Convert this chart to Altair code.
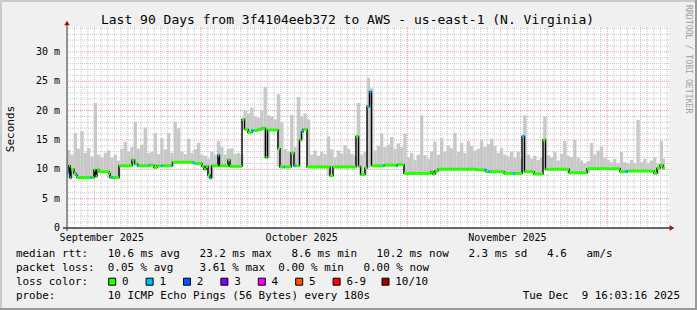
import altair as alt
import numpy as np
import pandas as pd

# ---------------- data (x = days since 2025-09-01 00:00) ----------------
# median rtt, step segments: start day, value (ms), lost pings
med_start = [9.88, 10.18, 10.33, 10.48, 10.93, 11.23, 11.38, 13.33, 13.63, 13.93,
             14.16, 14.38, 14.68, 16.19, 16.34, 16.56, 16.79, 17.69, 19.64, 20.02,
             20.47, 20.69, 22.19, 22.34, 22.94, 23.39, 24.07, 24.29, 25.50, 25.72,
             28.80, 29.10, 30.15, 30.45, 30.75, 31.05, 31.35, 31.58, 32.55, 32.78,
             34.05, 34.35, 36.16, 36.53, 37.06, 37.66, 37.96, 38.56, 39.16, 39.68,
             39.99, 41.56, 41.86, 42.31, 42.54, 43.51, 43.96, 44.26, 44.79, 45.09,
             45.32, 45.92, 49.37, 49.82, 53.27, 53.65, 53.95, 54.62, 54.93, 55.30,
             55.60, 57.33, 57.55, 59.28, 59.50, 60.48, 64.53, 64.83, 65.14, 65.59,
             71.29, 72.49, 72.79, 73.09, 73.39, 75.50, 76.85, 77.15, 78.20, 78.57,
             80.00, 81.35, 81.73, 85.26, 87.96, 92.91, 93.66, 94.04, 98.02, 98.47,
             98.92, 99.37]
med_ms = [9.4, 10.6, 8.5, 10.0, 9.3, 9.0, 8.6, 8.6, 8.6, 9.9,
          8.8, 9.9, 9.6, 9.3, 8.6, 8.6, 8.6, 10.6, 11.6, 10.9,
          10.6, 10.6, 10.7, 10.7, 10.3, 10.6, 10.6, 10.6, 10.6, 11.2,
          11.1, 11.0, 10.5, 10.0, 10.5, 9.0, 8.5, 10.6, 12.4, 10.6,
          11.6, 10.5, 18.5, 16.8, 16.3, 16.6, 16.6, 16.8, 17.0, 12.0,
          16.7, 13.5, 10.4, 10.4, 10.4, 12.8, 10.6, 10.6, 15.0, 16.4,
          16.8, 10.4, 8.9, 10.4, 15.6, 10.5, 9.1, 10.2, 20.7, 23.2,
          10.6, 10.6, 10.7, 10.6, 10.8, 9.3, 9.6, 9.2, 9.7, 10.0,
          9.9, 9.9, 9.6, 9.6, 9.6, 9.3, 9.3, 9.3, 15.6, 9.6,
          9.2, 15.0, 10.0, 9.4, 10.1, 9.6, 9.6, 9.7, 9.3, 10.2,
          10.7, 10.2]
med_loss = [1, 0, 0, 0, 0, 1, 0, 1, 0, 0,
            0, 0, 0, 0, 0, 1, 0, 0, 0, 0,
            1, 0, 1, 0, 0, 0, 1, 0, 1, 0,
            1, 0, 0, 0, 0, 0, 1, 0, 1, 0,
            0, 0, 0, 0, 0, 1, 0, 0, 0, 0,
            0, 0, 0, 1, 0, 0, 1, 0, 0, 1,
            0, 0, 0, 0, 0, 0, 0, 0, 1, 1,
            0, 1, 0, 1, 0, 0, 0, 0, 0, 0,
            0, 1, 0, 1, 0, 0, 1, 0, 1, 0,
            0, 0, 0, 0, 0, 0, 1, 0, 0, 0,
            0, 0]
data_end = 99.67

# smoke (upper extent of the ping spread), one value per half day
smoke_t0 = 9.88
smoke_step = 0.5
smoke_top = [13.3, 12.5, 16.2, 13.5, 16.5, 12.8, 13.6, 12.2, 21.3, 12.5,
             12.0, 12.8, 13.2, 12.0, 12.5, 11.5, 13.5, 14.7, 13.0, 13.8,
             18.1, 13.5, 14.2, 17.1, 12.8, 13.0, 16.2, 12.6, 15.3, 13.4,
             16.2, 12.8, 18.1, 17.0, 13.0, 12.6, 15.2, 12.8, 13.4, 14.5,
             12.5, 12.3, 11.8, 13.0, 12.5, 14.8, 13.8, 12.5, 13.5, 13.6,
             12.6, 12.8, 12.5, 20.1, 19.5, 20.5, 19.0, 18.8, 20.0, 24.0,
             19.2, 19.0, 18.5, 22.8, 18.0, 13.5, 13.0, 19.3, 13.8, 22.3,
             19.0, 19.5, 18.5, 12.5, 13.2, 12.3, 13.0, 12.6, 15.6, 13.4,
             12.0, 13.2, 12.7, 14.1, 13.5, 12.6, 12.3, 21.3, 12.5, 13.0,
             25.6, 23.8, 13.2, 14.0, 16.1, 13.8, 14.2, 15.5, 13.5, 14.4,
             13.8, 16.1, 12.0, 12.8, 11.6, 12.5, 19.2, 12.4, 11.8, 13.0,
             14.7, 12.5, 15.3, 13.0, 14.0, 13.6, 16.2, 13.0, 14.5, 12.8,
             14.8, 14.0, 13.2, 13.5, 15.0, 13.8, 14.3, 15.2, 14.0, 12.8,
             13.6, 12.5, 12.2, 13.0, 12.0, 13.0, 11.8, 19.2, 12.5, 11.8,
             12.3, 11.6, 12.0, 19.0, 12.4, 12.0, 13.0, 11.5, 12.6, 14.8,
             12.3, 12.0, 15.0, 12.0, 11.5, 11.0, 11.4, 14.5, 12.5, 13.2,
             13.9, 12.0, 11.6, 11.2, 11.8, 11.0, 13.0, 11.2, 11.0, 11.6,
             11.0, 18.4, 11.2, 11.8, 11.0, 11.5, 12.0, 11.0, 14.8, 11.8]

x_ticks = [15.1, 45.1, 76.0]
x_tick_labels = ["September 2025", "October 2025", "November 2025"]
month_starts = [30, 61, 91]
y_ticks = [0, 5, 10, 15, 20, 25, 30]
y_tick_labels = ["0  ", "5 m", "10 m", "15 m", "20 m", "25 m", "30 m"]

loss_labels = ["0", "1", "2", "3", "4", "5", "6-9", "10/10"]
loss_colors = ["#26ff00", "#00b8ff", "#0059ff", "#7e00ff",
               "#ff00ff", "#ff5500", "#ff0000", "#a10000"]

title_text = "Last 90 Days from 3f4104eeb372 to AWS - us-east-1 (N. Virginia)"
legend_rows = [
    "median rtt:   10.6 ms avg   23.2 ms max   8.6 ms min   10.2 ms now   2.3 ms sd   4.6   am/s",
    "packet loss:  0.05 % avg    3.61 % max  0.00 % min   0.00 % now",
    "loss color:",
    "probe:        10 ICMP Echo Pings (56 Bytes) every 180s",
]
stamp_text = "Tue Dec  9 16:03:16 2025"
watermark = "RRDTOOL / TOBI OETIKER"

# ---------------- layout ----------------
FONT = "DejaVu Sans Mono"
LEFT, TOP, W, H = 67, 27, 602, 201
IMG_W, IMG_H = 697, 310
NB = "\u00a0"

x_scale = alt.Scale(domain=[9.88, 100.27], nice=False, zero=False)
y_scale = alt.Scale(domain=[0, 34.24], nice=False, zero=False)

# ---------------- tables ----------------
med_end = med_start[1:] + [data_end]
med_df = pd.DataFrame({"start": med_start, "end": med_end, "ms": med_ms, "loss": med_loss})
line_df = pd.DataFrame({"t": med_start + [data_end], "ms": med_ms + [med_ms[-1]]})

st = np.array(med_start)
en = np.array(med_end)
ms_arr = np.array(med_ms)
rows = []
for i, top in enumerate(smoke_top):
    t = smoke_t0 + smoke_step * i
    t2 = min(t + smoke_step, data_end)
    mask = (st < t2) & (en > t)
    base = float(ms_arr[mask].min())
    rows.append({"t": t, "t2": t2, "top": max(top, base), "base": base})
smoke_df = pd.DataFrame(rows)

minor_days = [d for d in range(10, 101) if d not in month_starts]
minor_ms = [v for v in range(1, 35) if v % 5 != 0]
major_ms = [v for v in y_ticks if v > 0]

# ---------------- layers ----------------
grid_minor_v = alt.Chart(pd.DataFrame({"d": minor_days})).mark_rule(
    color="#c6c6c6", strokeDash=[1, 1], strokeWidth=1
).encode(x=alt.X("d:Q", scale=x_scale, axis=None))

grid_minor_h = alt.Chart(pd.DataFrame({"v": minor_ms})).mark_rule(
    color="#c6c6c6", strokeDash=[1, 1], strokeWidth=1
).encode(y=alt.Y("v:Q", scale=y_scale, axis=None))

grid_major_v = alt.Chart(pd.DataFrame({"d": month_starts})).mark_rule(
    color="#e89a9a", strokeDash=[1, 1], strokeWidth=1
).encode(x=alt.X("d:Q", scale=x_scale, axis=None))

grid_major_h = alt.Chart(pd.DataFrame({"v": major_ms})).mark_rule(
    color="#e89a9a", strokeDash=[1, 1], strokeWidth=1
).encode(y=alt.Y("v:Q", scale=y_scale, axis=None))

smoke = alt.Chart(smoke_df).mark_rect(color="#c8c8c8").encode(
    x=alt.X("t:Q", scale=x_scale, axis=None),
    x2="t2:Q",
    y=alt.Y("top:Q", scale=y_scale, axis=None),
    y2="base:Q",
)

med_line = alt.Chart(line_df).mark_line(
    interpolate="step-after", color="#000000", strokeWidth=1.4
).encode(
    x=alt.X("t:Q", scale=x_scale, axis=None),
    y=alt.Y("ms:Q", scale=y_scale, axis=None),
)

med_seg = alt.Chart(med_df).mark_rule(strokeWidth=3, strokeCap="butt").encode(
    x=alt.X("start:Q", scale=x_scale, axis=None),
    x2="end:Q",
    y=alt.Y("ms:Q", scale=y_scale, axis=None),
    color=alt.Color("loss:O", scale=alt.Scale(domain=[0, 1], range=loss_colors[:2]), legend=None),
)

# tick labels drawn through the scales
y_lab_df = pd.DataFrame({"v": y_ticks, "s": [s.replace(" ", NB) for s in y_tick_labels]})
y_labels = alt.Chart(y_lab_df).mark_text(
    align="right", baseline="middle", font=FONT, fontSize=10, color="#000000"
).encode(y=alt.Y("v:Q", scale=y_scale, axis=None), x=alt.value(-7), text="s:N")

x_lab_df = pd.DataFrame({"d": x_ticks, "s": [s.replace(" ", NB) for s in x_tick_labels]})
x_labels = alt.Chart(x_lab_df).mark_text(
    align="center", baseline="middle", font=FONT, fontSize=10, color="#000000"
).encode(x=alt.X("d:Q", scale=x_scale, axis=None), y=alt.value(H + 9.5), text="s:N")

axis_y_line = alt.Chart().mark_rule(color="#3a3a3a", strokeWidth=1).encode(
    x=alt.value(0), y=alt.value(H + 3), y2=alt.value(-3))
axis_x_line = alt.Chart().mark_rule(color="#3a3a3a", strokeWidth=1.5).encode(
    x=alt.value(-4), x2=alt.value(W + 1), y=alt.value(H))
arrow_up = alt.Chart().mark_point(shape="triangle-up", filled=True, opacity=1,
                                  color="#a01010", size=30).encode(
    x=alt.value(0), y=alt.value(-4))
arrow_right = alt.Chart().mark_point(shape="triangle-right", filled=True, opacity=1,
                                     color="#a01010", size=30).encode(
    x=alt.value(W + 3), y=alt.value(H))


def txt(s, px, py, size, align="left", angle=0, color="#000000"):
    return alt.Chart(pd.DataFrame({"s": [s.replace(" ", NB)]})).mark_text(
        align=align, baseline="middle", font=FONT, fontSize=size, angle=angle, color=color
    ).encode(text="s:N", x=alt.value(px - LEFT), y=alt.value(py - TOP))


row_y = [254.3, 268.3, 282.3, 296.0]
texts = [
    txt(title_text, 347.5, 19.5, 13, align="center"),
    txt("Seconds", 10.5, 129, 11, align="center", angle=270),
    txt(watermark, 687.5, 5, 8.2, align="left", angle=90, color="#a0a0a0"),
    txt(stamp_text, 680, row_y[3], 10.9, align="right"),
]
for r, s in zip(row_y, legend_rows):
    texts.append(txt(s, 16, r, 10.9))

box_x = [112.2 + 37.4 * i for i in range(7)] + [385.5]
box_df = pd.DataFrame({
    "bx": [b - LEFT for b in box_x],
    "lx": [b - LEFT + 9.8 for b in box_x],
    "c": loss_colors,
    "l": loss_labels,
})
boxes = alt.Chart(box_df).mark_square(size=49, stroke="#000000", strokeWidth=1, opacity=1).encode(
    x=alt.X("bx:Q", scale=None), y=alt.value(row_y[2] - TOP - 0.6),
    fill=alt.Fill("c:N", scale=None))
box_labels = alt.Chart(box_df).mark_text(
    align="left", baseline="middle", font=FONT, fontSize=10.9, color="#000000"
).encode(x=alt.X("lx:Q", scale=None), y=alt.value(row_y[2] - TOP), text="l:N")

# frame (3d border)
frame = [
    alt.Chart().mark_rule(color="#cbcbcb", strokeWidth=2).encode(
        x=alt.value(-LEFT), x2=alt.value(IMG_W - LEFT), y=alt.value(-TOP + 1)),
    alt.Chart().mark_rule(color="#cbcbcb", strokeWidth=2).encode(
        x=alt.value(-LEFT + 1), y=alt.value(-TOP), y2=alt.value(IMG_H - TOP)),
    alt.Chart().mark_rule(color="#999999", strokeWidth=2).encode(
        x=alt.value(-LEFT), x2=alt.value(IMG_W - LEFT), y=alt.value(IMG_H - TOP - 1)),
    alt.Chart().mark_rule(color="#999999", strokeWidth=2).encode(
        x=alt.value(IMG_W - LEFT - 1), y=alt.value(-TOP), y2=alt.value(IMG_H - TOP)),
]

chart = alt.layer(
    grid_minor_v, grid_minor_h, grid_major_v, grid_major_h,
    smoke, med_line, med_seg,
    axis_y_line, axis_x_line, arrow_up, arrow_right,
    y_labels, x_labels,
    *texts, boxes, box_labels, *frame,
).properties(
    width=W, height=H,
    autosize=alt.AutoSizeParams(type="none"),
    padding={"left": LEFT, "top": TOP, "right": IMG_W - LEFT - W, "bottom": IMG_H - TOP - H},
    background="#f0f0f0",
).configure_view(fill="#ffffff", strokeWidth=0)

chart.save("out.html", embed_options={"renderer": "svg", "actions": False})
